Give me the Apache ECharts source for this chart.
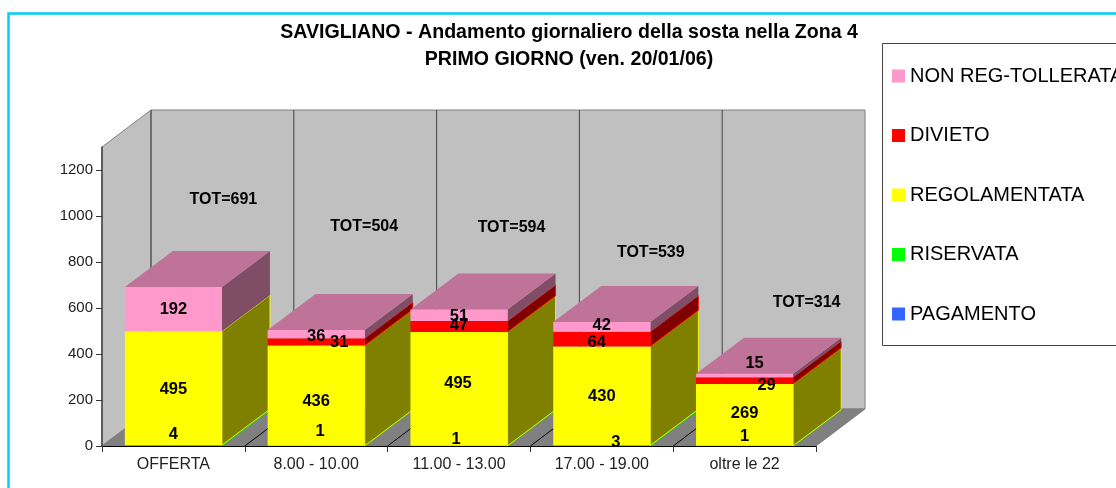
<!DOCTYPE html>
<html>
<head>
<meta charset="utf-8">
<style>html,body{margin:0;padding:0;background:#fff}#c{width:1116px;height:488px}</style>
<script src="https://cdn.jsdelivr.net/npm/echarts@6/dist/echarts.min.js"></script>
</head>
<body>
<div id="c"></div>
<script>
const categories = ['OFFERTA', '8.00 - 10.00', '11.00 - 13.00', '17.00 - 19.00', 'oltre le 22'];
const pagamento = [0, 0, 0, 0, 0];
const riservata = [4, 1, 1, 3, 1];
const regolamentata = [495, 436, 495, 430, 269];
const divieto = [0, 31, 47, 64, 29];
const nonRegTollerata = [192, 36, 51, 42, 15];
const totals = [691, 504, 594, 539, 314];
const yTickValues = [0, 200, 400, 600, 800, 1000, 1200];

/* layout only: pixel nudges of the hand-placed labels, per series then category */
const labelNudge = {
  'PAGAMENTO': [[0,0],[0,0],[0,0],[0,0],[0,0]],
  'RISERVATA': [[0,-11],[4,-14],[-3,-6],[14,-3],[0,-9]],
  'REGOLAMENTATA': [[0,1],[0,6],[-1,-5],[0,1],[0,-1]],
  'DIVIETO': [[0,0],[23,1],[0,-1.5],[-5,3],[22,4.5]],
  'NON REG-TOLLERATA': [[0,0],[0,2],[0,1],[0,-1],[10,-12.5]]
};
const totNudge = [[50,-87],[48,-103],[52.5,-82],[49,-69],[62,-71]];

const FONT = '"Liberation Sans", Arial, sans-serif';
const WALL_DX = 49, WALL_DY = 37, BAR_DX = 48, BAR_DY = 36, BAR_RATIO = 0.68;

const stackDefs = [
  { name: 'PAGAMENTO', values: pagamento, front: '#3366FF', side: '#1A3380', top: '#264DBF', edge: true },
  { name: 'RISERVATA', values: riservata, front: '#00FF00', side: '#008000', top: '#00BF00', edge: true },
  { name: 'REGOLAMENTATA', values: regolamentata, front: '#FFFF00', side: '#808000', top: '#BFBF00', edge: true },
  { name: 'DIVIETO', values: divieto, front: '#FF0000', side: '#800000', top: '#BF0000', edge: true },
  { name: 'NON REG-TOLLERATA', values: nonRegTollerata, front: '#FF99CC', side: '#804D66', top: '#BF7399', edge: false }
];

function stackBase(seriesIndex, cat) {
  let sum = 0;
  for (let i = 0; i < seriesIndex; i++) sum += stackDefs[i].values[cat];
  return sum;
}
function isTop(seriesIndex, cat) {
  for (let i = seriesIndex + 1; i < stackDefs.length; i++) if (stackDefs[i].values[cat] > 0) return false;
  return true;
}

function renderWalls(params, api) {
  const r = params.coordSys;
  const L = r.x, R = r.x + r.width, T = r.y, B = r.y + r.height;
  const stroke = { stroke: '#808080', lineWidth: 1 };
  const children = [
    { type: 'polygon', shape: { points: [[L,T],[L+WALL_DX,T-WALL_DY],[L+WALL_DX,B-WALL_DY],[L,B]] }, style: Object.assign({ fill: '#C0C0C0' }, stroke) },
    { type: 'rect', shape: { x: L+WALL_DX, y: T-WALL_DY, width: r.width, height: r.height }, style: Object.assign({ fill: '#C0C0C0' }, stroke) },
    { type: 'polygon', shape: { points: [[L,B],[R,B],[R+WALL_DX,B-WALL_DY],[L+WALL_DX,B-WALL_DY]] }, style: Object.assign({ fill: '#808080' }, stroke) }
  ];
  const band = r.width / categories.length;
  for (let i = 0; i < categories.length; i++) {
    const x = L + band * i;
    children.push({ type: 'line', shape: { x1: x+WALL_DX, y1: T-WALL_DY, x2: x+WALL_DX, y2: B-WALL_DY }, style: { stroke: '#444', lineWidth: 1 } });
    if (i > 0) children.push({ type: 'line', shape: { x1: x, y1: B, x2: x+WALL_DX, y2: B-WALL_DY }, style: { stroke: '#000', lineWidth: 1 } });
  }
  return { type: 'group', children };
}

function makeRenderer(seriesIndex) {
  const def = stackDefs[seriesIndex];
  return function (params, api) {
    const cat = api.value(0), val = api.value(1);
    if (!val) return null;
    const base = stackBase(seriesIndex, cat);
    const p0 = api.coord([cat, base]), p1 = api.coord([cat, base + val]);
    const bw = api.size([1, 0])[0] * BAR_RATIO;
    const x0 = p0[0] - bw / 2, x1 = p0[0] + bw / 2, y0 = p0[1], y1 = p1[1];
    const z = (cat + 1) * 100 + seriesIndex;
    const sideStyle = def.edge ? { fill: def.side, stroke: def.front, lineWidth: 0.8 } : { fill: def.side };
    const children = [
      { type: 'polygon', z2: z, shape: { points: [[x1,y0],[x1+BAR_DX,y0-BAR_DY],[x1+BAR_DX,y1-BAR_DY],[x1,y1]] }, style: sideStyle },
      { type: 'rect', z2: z + 1, shape: { x: x0, y: y1, width: bw, height: y0 - y1 }, style: { fill: def.front } }
    ];
    if (isTop(seriesIndex, cat)) {
      children.push({ type: 'polygon', z2: z + 2, shape: { points: [[x0,y1],[x1,y1],[x1+BAR_DX,y1-BAR_DY],[x0+BAR_DX,y1-BAR_DY]] }, style: { fill: def.top } });
    }
    const n = labelNudge[def.name][cat];
    children.push({
      type: 'text', z2: 5000,
      style: { x: p0[0] + n[0], y: (y0 + y1) / 2 + n[1], text: String(val), fill: '#000', font: 'bold 16.5px ' + FONT, textAlign: 'center', textVerticalAlign: 'middle' }
    });
    return { type: 'group', children };
  };
}

function renderTot(params, api) {
  const cat = api.value(0), tot = api.value(1);
  const p = api.coord([cat, tot]), n = totNudge[cat];
  return { type: 'text', style: { x: p[0] + n[0], y: p[1] + n[1], text: 'TOT=' + tot, fill: '#000', font: 'bold 16px ' + FONT, textAlign: 'center', textVerticalAlign: 'middle' } };
}

const series = [
  { type: 'custom', name: 'Pareti', z: 1, silent: true, data: [[0, 0]], renderItem: renderWalls, encode: { x: 0, y: 1 } }
];
stackDefs.forEach(function (d, i) {
  series.push({
    type: 'custom', name: d.name, z: 2, silent: true,
    itemStyle: { color: d.front },
    data: d.values.map(function (v, c) { return [c, v]; }),
    renderItem: makeRenderer(i), encode: { x: 0, y: 1 }
  });
});
series.push({ type: 'custom', name: 'TOT', z: 3, silent: true, data: totals.map(function (v, c) { return [c, v]; }), renderItem: renderTot, encode: { x: 0, y: 1 } });

const chart = echarts.init(document.getElementById('c'), null, { renderer: 'canvas' });
chart.setOption({
  animation: false,
  backgroundColor: '#fff',
  textStyle: { fontFamily: FONT },
  title: {
    text: 'SAVIGLIANO - Andamento giornaliero della sosta nella Zona 4\nPRIMO GIORNO (ven. 20/01/06)',
    left: 564, top: 14, textAlign: 'center',
    textStyle: { fontFamily: FONT, fontSize: 19.6, fontWeight: 'bold', color: '#000', lineHeight: 27 }
  },
  grid: { left: 102, top: 147, width: 714, height: 299, containLabel: false },
  xAxis: {
    type: 'category', data: categories, z: 5,
    axisLine: { lineStyle: { color: '#000', width: 1 } },
    axisTick: { show: true, length: 6, lineStyle: { color: '#333', width: 1 } },
    axisLabel: { color: '#222', fontSize: 16, fontFamily: FONT, margin: 11 },
    splitLine: { show: false }
  },
  yAxis: {
    type: 'value', min: 0, max: 1300, interval: 100, z: 5,
    axisLine: { show: true, lineStyle: { color: '#444', width: 1.5 } },
    axisTick: { show: true, length: 6, customValues: yTickValues, lineStyle: { color: '#333', width: 1 } },
    axisLabel: { color: '#222', fontSize: 15, fontFamily: FONT, margin: 9, customValues: yTickValues, formatter: function (v) { return String(v); } },
    splitLine: { show: false }
  },
  legend: {
    orient: 'vertical', left: 892, top: 65.5,
    itemWidth: 13, itemHeight: 13, itemGap: 38.5, selectedMode: false, padding: 0,
    icon: 'rect',
    data: stackDefs.map(function (d) { return d.name; }).reverse(),
    textStyle: { fontFamily: FONT, fontSize: 20, color: '#000', lineHeight: 20, padding: [1, 0, 0, 0] }
  },
  graphic: [
    { type: 'polyline', silent: true, z: 0, shape: { points: [[8.5, 488], [8.5, 13.5], [1116, 13.5]] }, style: { stroke: '#00CCFF', lineWidth: 2.5, fill: null } },
    { type: 'rect', silent: true, z: 0, shape: { x: 882.5, y: 43.5, width: 300, height: 302 }, style: { fill: '#fff', stroke: '#444', lineWidth: 1 } }
  ],
  series: series
});
</script>
</body>
</html>
